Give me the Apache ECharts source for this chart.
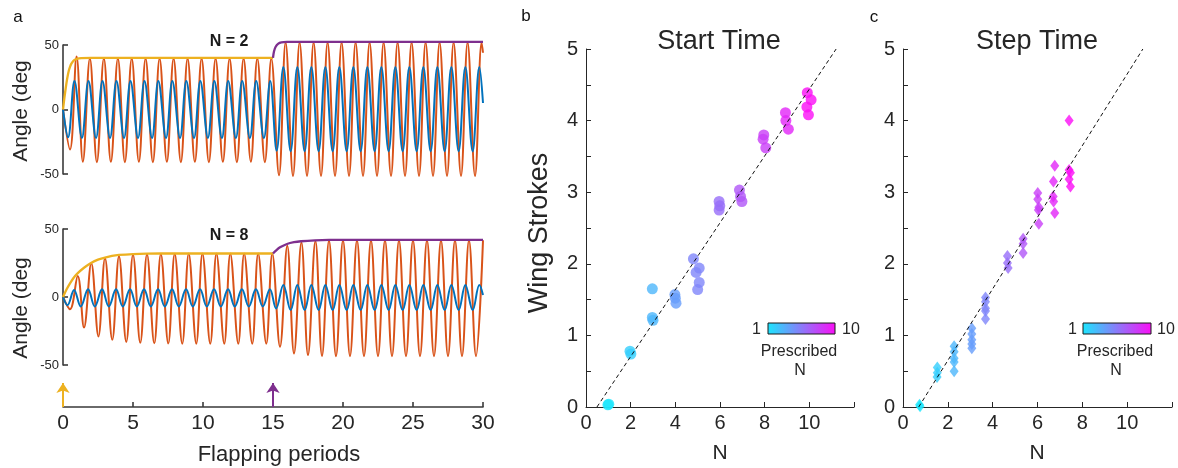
<!DOCTYPE html>
<html><head><meta charset="utf-8">
<script src="https://cdn.jsdelivr.net/npm/echarts@6.0.0/dist/echarts.min.js"></script>
<style>html,body{margin:0;padding:0;background:#fff}#c{width:1178px;height:468px}</style>
</head><body><div id="c"></div>
<script>
// ---------- Panel a: N = 2 (extrema: [flapping period, angle]) ----------
const aTopOrange = [[0,0],[0.5,-31],[0.97,41],[1.42,-40.5],[1.92,39.5],[2.42,-40.8],[2.92,39.5],[3.42,-40.5],[3.92,39.5],[4.42,-40.8],[4.91,39.5],[5.42,-40.5],[5.9,39.5],[6.42,-40.8],[6.9,39.5],[7.42,-40.5],[7.9,39.5],[8.42,-40.8],[8.9,39.5],[9.42,-40.5],[9.9,39.5],[10.42,-40.8],[10.9,39.5],[11.42,-40.5],[11.9,39.5],[12.42,-40.8],[12.9,39.5],[13.42,-40.5],[13.88,39.5],[14.42,-40.8],[14.88,39.5],[15.43,-51],[15.9,52],[16.43,-51.5],[16.9,52],[17.43,-51.5],[17.9,52],[18.43,-51.5],[18.9,52],[19.43,-51.5],[19.9,52],[20.43,-51.5],[20.9,52],[21.43,-51.5],[21.9,52],[22.43,-51.5],[22.9,52],[23.43,-51.5],[23.9,52],[24.43,-51.5],[24.9,52],[25.43,-51.5],[25.9,52],[26.43,-51.5],[26.9,52],[27.43,-51.5],[27.9,52],[28.43,-51.5],[28.9,52],[29.43,-51.5],[29.9,52],[30,44]];
const aTopBlue = [[0,0],[0.36,-21.5],[0.82,22],[1.35,-22],[1.82,22],[2.36,-22],[2.82,22],[3.36,-22],[3.82,22],[4.36,-22],[4.82,22],[5.36,-22],[5.82,22],[6.36,-22],[6.81,22],[7.36,-22],[7.81,22],[8.36,-22],[8.81,22],[9.36,-22],[9.81,22],[10.35,-22],[10.81,22],[11.35,-22],[11.8,22],[12.35,-22],[12.8,22],[13.35,-22],[13.8,22],[14.35,-22],[14.8,22],[15.26,-32],[15.74,33],[16.26,-32.5],[16.74,33],[17.26,-32.5],[17.74,33],[18.26,-32.5],[18.74,33],[19.26,-32.5],[19.74,33],[20.26,-32.5],[20.74,33],[21.26,-32.5],[21.74,33],[22.26,-32.5],[22.74,33],[23.26,-32.5],[23.74,33],[24.26,-32.5],[24.74,33],[25.26,-32.5],[25.74,33],[26.26,-32.5],[26.74,33],[27.26,-32.5],[27.74,33],[28.26,-32.5],[28.74,33],[29.26,-32.5],[29.74,33],[30,5]];
const aTopStart = [[0,0],[0.1,9],[0.2,17],[0.3,24],[0.4,29.5],[0.5,33],[0.6,35.5],[0.8,38.3],[1.0,39.3],[1.3,39.8],[2,40],[15,40]];
const aTopStep = [[15,40],[15.07,45],[15.19,48.6],[15.38,51],[15.6,52],[16,52.4],[17,52.5],[30,52.5]];

// ---------- Panel a: N = 8 ----------
const aBotOrange = [[0,0],[0.5,-9],[1.05,15.5],[1.5,-22.5],[2.02,24.8],[2.53,-29],[3.0,28.5],[3.52,-31.5],[4.0,30],[4.52,-33],[5.0,31],[5.52,-33.7],[6.0,31.5],[6.52,-34],[6.99,31.7],[7.52,-34.2],[7.98,31.8],[8.52,-34.3],[8.98,32],[9.52,-34.3],[9.96,32],[10.52,-34.3],[10.96,32],[11.52,-34.3],[11.95,32],[12.52,-34.3],[12.94,32],[13.52,-34.3],[13.94,32],[14.52,-34.3],[14.95,32],[15.5,-36.6],[16.02,37.6],[16.5,-41.5],[17.03,40],[17.5,-42.7],[18.03,41.2],[18.5,-43.3],[19.0,41.5],[19.5,-43.5],[20.0,41.7],[20.5,-43.5],[21.0,41.7],[21.5,-43.5],[22.0,41.7],[22.5,-43.5],[23.0,41.7],[23.5,-43.5],[24.0,41.7],[24.5,-43.5],[25.0,41.7],[25.5,-43.5],[26.0,41.7],[26.5,-43.5],[27.0,41.7],[27.5,-43.5],[28.0,41.7],[28.5,-43.5],[29.0,41.7],[29.5,-43.5],[30,41.7]];
const aBotBlue = [[0,0],[0.32,-6],[0.79,5.2],[1.27,-7],[1.79,5.7],[2.27,-7],[2.79,5.7],[3.27,-7],[3.79,5.7],[4.27,-7],[4.79,5.7],[5.27,-7],[5.79,5.7],[6.27,-7],[6.79,5.7],[7.27,-7],[7.79,5.7],[8.27,-7],[8.79,5.7],[9.27,-7],[9.79,5.7],[10.27,-7],[10.79,5.7],[11.27,-7],[11.79,5.7],[12.27,-7],[12.78,5.7],[13.27,-7],[13.78,5.7],[14.27,-7],[14.78,5.7],[15.22,-8.5],[15.74,8.8],[16.26,-9.6],[16.74,8.8],[17.26,-9.6],[17.74,8.8],[18.26,-9.6],[18.74,8.8],[19.26,-9.6],[19.74,8.8],[20.26,-9.6],[20.74,8.8],[21.26,-9.6],[21.74,8.8],[22.26,-9.6],[22.74,8.8],[23.26,-9.6],[23.74,8.8],[24.26,-9.6],[24.74,8.8],[25.26,-9.6],[25.74,8.8],[26.26,-9.6],[26.74,8.8],[27.26,-9.6],[27.74,8.8],[28.26,-9.6],[28.74,8.8],[29.26,-9.6],[29.74,8.8],[30,1.5]];
const aBotStart = [[0,0],[0.25,5.5],[0.5,10],[0.75,14],[1,17],[1.5,21.5],[2,25],[2.5,27.5],[3,29],[3.5,30.2],[4,30.9],[5,31.6],[6,31.9],[8,32],[15,32]];
const aBotStep = [[15,32],[15.25,34.5],[15.5,36.5],[16,39],[16.5,40.3],[17,41],[18,41.7],[19,42],[30,42]];
const arrowTimes = [0, 15];
const aXTicks = [0, 30, 5];

// ---------- Panel b: Start Time  [N, wing strokes, prescribed N] ----------
const startPts = [
  [0.98,0.03,1],[1.02,0.04,1],
  [1.97,0.78,2],[2.01,0.74,2],
  [2.97,1.65,3],[2.97,1.25,3],[3.0,1.21,3],
  [3.98,1.57,4],[4.0,1.52,4],[4.03,1.45,4],
  [4.81,2.07,5],[5.07,1.94,5],[4.93,1.88,5],[5.07,1.74,5],[5.0,1.64,5],
  [5.96,2.87,6],[5.99,2.81,6],[5.96,2.75,6],
  [6.87,3.03,7],[6.92,2.94,7],[6.98,2.87,7],
  [7.96,3.80,8],[7.93,3.74,8],[8.05,3.62,8],
  [8.93,4.11,9],[8.95,4.0,9],[9.06,3.88,9],
  [9.91,4.39,10],[10.08,4.29,10],[9.89,4.19,10],[9.96,4.08,10]
];
const startFit = [[0.49,0],[11.2,5]];

// ---------- Panel c: Step Time ----------
const stepPts = [
  [0.74,0.03,1],[0.76,0.01,1],
  [1.53,0.55,2],[1.53,0.48,2],[1.52,0.42,2],
  [2.28,0.85,3],[2.28,0.77,3],[2.28,0.68,3],[2.28,0.63,3],[2.28,0.5,3],
  [3.07,1.1,4],[3.07,1.02,4],[3.07,0.94,4],[3.07,0.88,4],[3.07,0.82,4],
  [3.68,1.53,5],[3.68,1.47,5],[3.68,1.38,5],[3.68,1.34,5],[3.68,1.23,5],
  [4.66,2.11,6],[4.66,2.01,6],[4.69,1.94,6],
  [5.36,2.35,7],[5.36,2.28,7],[5.36,2.15,7],
  [6.01,2.99,8],[6.01,2.9,8],[6.06,2.79,8],[6.04,2.75,8],[6.06,2.56,8],
  [6.77,3.37,9],[6.71,3.15,9],[6.7,2.94,9],[6.72,2.87,9],[6.77,2.71,9],
  [7.41,4.0,10],[7.41,3.31,10],[7.47,3.27,10],[7.41,3.18,10],[7.47,3.08,10]
];
const stepFit = [[0.7,0],[10.7,5]];
const prescribedRange = [1, 10];

// ---------- style ----------
const FF = '"Liberation Sans", Arial, Helvetica, sans-serif';
const TXT = '#262626';
const AX = '#262626';
const ORANGE = '#D95319', BLUE = '#0072BD', YELLOW = '#EDB120', PURPLE = '#7E2F8E';
const CYAN = '#1be6fd', MAGENTA = '#fb0ef6';

const chart = echarts.init(document.getElementById('c'));

function aY(){ return {type:'value', min:-50, max:50, interval:50,
  axisLine:{show:true, lineStyle:{color:'#3a3a3a', width:1.6}},
  axisTick:{show:true, inside:true, length:5, lineStyle:{color:'#3a3a3a', width:1.6}},
  axisLabel:{fontSize:13, color:TXT, margin:4, fontFamily:FF},
  splitLine:{show:false}}; }
function aXhidden(){ return {type:'value', min:aXTicks[0], max:aXTicks[1], show:false}; }
function scX(){ return {type:'value', min:0, max:12, interval:2,
  axisLine:{show:true, onZero:false, lineStyle:{color:AX, width:1}},
  axisTick:{show:true, inside:true, length:5, lineStyle:{color:AX}},
  axisLabel:{fontSize:20, color:TXT, margin:6, fontFamily:FF, formatter:v => v === 12 ? '' : String(v)},
  splitLine:{show:false}}; }
function scY(){ return {type:'value', min:0, max:5, interval:0.5,
  axisLine:{show:true, onZero:false, lineStyle:{color:AX, width:1}},
  axisTick:{show:true, inside:true, length:5, lineStyle:{color:AX}},
  axisLabel:{fontSize:20, color:TXT, margin:8, fontFamily:FF,
    formatter:v => Math.abs(v - Math.round(v)) < 1e-6 ? String(Math.round(v)) : ''},
  splitLine:{show:false}}; }
function wave(data, idx, color, w, sm){ return {type:'line', xAxisIndex:idx, yAxisIndex:idx, data,
  showSymbol:false, symbol:'none', smooth:sm, clip:false, silent:true,
  lineStyle:{color, width:w}, itemStyle:{color}}; }
function txt(text, x, y, size, opts){ opts = opts || {};
  return {type:'text', x, y, rotation:opts.rot || 0, silent:true, z:100,
    style:{text, fontSize:size, fontFamily:FF, fontWeight:opts.bold ? 'bold' : 'normal', fill:opts.color || TXT,
      align:opts.align || 'center', verticalAlign:'middle', textAlign:opts.align || 'center', textVerticalAlign:'middle'}}; }
function cbar(x, y, w, h){ return {type:'rect', silent:true, z:100, shape:{x, y, width:w, height:h},
  style:{fill:new echarts.graphic.LinearGradient(0,0,1,0,[{offset:0,color:CYAN},{offset:1,color:MAGENTA}]), stroke:'#1a1a1a', lineWidth:1}}; }

const option = {
  animation:false,
  backgroundColor:'#fff',
  grid:[
    {left:63, top:45, width:420, height:129},
    {left:63, top:229, width:420, height:136},
    {left:63, top:383, width:420, height:24},
    {left:586, top:49, width:268, height:358},
    {left:903, top:49, width:269, height:358}
  ],
  xAxis:[
    Object.assign(aXhidden(), {gridIndex:0}),
    Object.assign(aXhidden(), {gridIndex:1}),
    {gridIndex:2, type:'value', min:aXTicks[0], max:aXTicks[1], interval:aXTicks[2],
      axisLine:{show:true, lineStyle:{color:'#3a3a3a', width:1.6}},
      axisTick:{show:true, inside:true, length:5, lineStyle:{color:'#3a3a3a', width:1.6}},
      axisLabel:{fontSize:21, color:TXT, margin:6, fontFamily:FF}, splitLine:{show:false}},
    Object.assign(scX(), {gridIndex:3}),
    Object.assign(scX(), {gridIndex:4})
  ],
  yAxis:[
    Object.assign(aY(), {gridIndex:0}),
    Object.assign(aY(), {gridIndex:1}),
    {gridIndex:2, type:'value', min:0, max:1, show:false},
    Object.assign(scY(), {gridIndex:3}),
    Object.assign(scY(), {gridIndex:4})
  ],
  visualMap:[{type:'continuous', show:false, min:prescribedRange[0], max:prescribedRange[1], dimension:2,
    seriesIndex:[9,11], inRange:{color:[CYAN, MAGENTA]}}],
  series:[
    wave(aTopOrange, 0, ORANGE, 2, 0.38),
    wave(aTopBlue, 0, BLUE, 2, 0.38),
    wave(aTopStart, 0, YELLOW, 2.3, 0.3),
    wave(aTopStep, 0, PURPLE, 2.3, 0.3),
    wave(aBotOrange, 1, ORANGE, 2, 0.38),
    wave(aBotBlue, 1, BLUE, 2, 0.38),
    wave(aBotStart, 1, YELLOW, 2.3, 0.3),
    wave(aBotStep, 1, PURPLE, 2.3, 0.3),
    {type:'line', xAxisIndex:2, yAxisIndex:2, data:[[0,0]], showSymbol:false, symbol:'none',
      lineStyle:{opacity:0}, silent:true,
      markLine:{silent:true, symbol:['none','arrow'], symbolSize:[10,10], label:{show:false},
        data:arrowTimes.map((t,i) => ({xAxis:t, lineStyle:{color:i ? PURPLE : YELLOW, width:2, type:'solid'},
          itemStyle:{color:i ? PURPLE : YELLOW}}))}},
    {type:'scatter', xAxisIndex:3, yAxisIndex:3, data:startPts, symbol:'circle', symbolSize:11, silent:true},
    {type:'line', xAxisIndex:3, yAxisIndex:3, data:startFit, showSymbol:false, symbol:'none', silent:true,
      lineStyle:{color:'#111', width:1, type:[4,3]}, z:5},
    {type:'scatter', xAxisIndex:4, yAxisIndex:4, data:stepPts, symbol:'diamond', symbolSize:[9,12], silent:true},
    {type:'line', xAxisIndex:4, yAxisIndex:4, data:stepFit, showSymbol:false, symbol:'none', silent:true,
      lineStyle:{color:'#111', width:1, type:[4,3]}, z:5}
  ],
  graphic:[
    txt('a', 18, 17, 17, {color:'#111'}),
    txt('b', 526, 16, 17, {color:'#111'}),
    txt('c', 874, 17, 17, {color:'#111'}),
    txt('N = 2', 229, 42, 16, {bold:true, color:'#1a1a1a'}),
    txt('N = 8', 229, 236, 16, {bold:true, color:'#1a1a1a'}),
    txt('Angle (deg', 21, 111, 21, {rot:Math.PI/2}),
    txt('Angle (deg', 21, 308, 21, {rot:Math.PI/2}),
    txt('Flapping periods', 279, 455, 22),
    txt('Start Time', 719, 42, 27),
    txt('Step Time', 1037, 42, 27),
    txt('Wing Strokes', 540, 233, 27, {rot:Math.PI/2}),
    txt('N', 720, 453, 21),
    txt('N', 1037, 453, 21),
    cbar(768, 323, 67, 11),
    txt('1', 761, 330, 16, {align:'right'}),
    txt('10', 842, 330, 16, {align:'left'}),
    txt('Prescribed', 799, 352, 16),
    txt('N', 800, 371, 16),
    cbar(1083, 323, 68, 11),
    txt('1', 1077, 330, 16, {align:'right'}),
    txt('10', 1157, 330, 16, {align:'left'}),
    txt('Prescribed', 1115, 352, 16),
    txt('N', 1116, 371, 16)
  ]
};
chart.setOption(option);
</script></body></html>
